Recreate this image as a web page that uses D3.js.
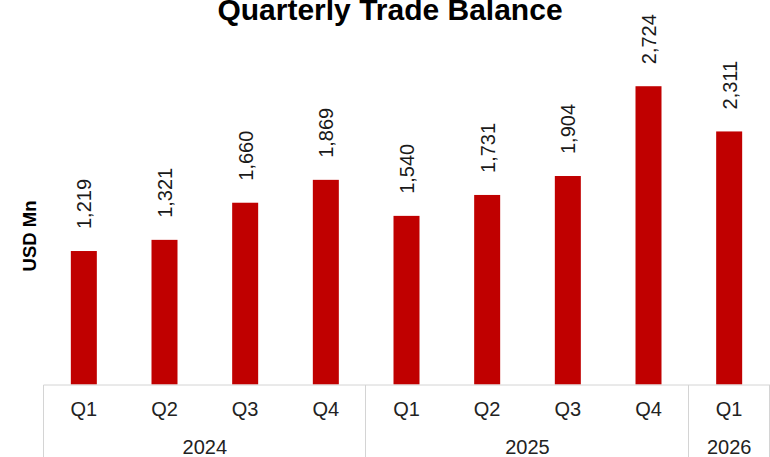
<!DOCTYPE html>
<html>
<head>
<meta charset="utf-8">
<script src="https://cdn.jsdelivr.net/npm/d3@7"></script>
<style>
  html, body { margin: 0; padding: 0; background: #fff; }
  svg { display: block; font-family: "Liberation Sans", Arial, sans-serif; }
</style>
</head>
<body>
<svg id="chart" width="770" height="457"></svg>
<script>
// Quarterly trade balance, USD millions
const quarters = ["Q1", "Q2", "Q3", "Q4", "Q1", "Q2", "Q3", "Q4", "Q1"];
const years    = ["2024", "2024", "2024", "2024", "2025", "2025", "2025", "2025", "2026"];
const values   = [1219, 1321, 1660, 1869, 1540, 1731, 1904, 2724, 2311];
const yAxisTitle = "USD Mn";
const chartTitle = "Quarterly Trade Balance";

const W = 770, H = 457;
const svg = d3.select("#chart");

const rows = values.map((v, i) => ({ key: years[i] + " " + quarters[i], q: quarters[i], year: years[i], v }));

const plotLeft = 43.5, plotRight = 769.5, baseline = 384.5;

// one cell per quarter; the bar sits in the middle of its cell
const x = d3.scaleBand().domain(rows.map(d => d.key)).range([plotLeft, plotRight]).padding(0);
const barW = 26;
const y = d3.scaleLinear().domain([0, 3000]).range([baseline, 56]);

const fmt = d3.format(",");
const red = "#c00000";
const grid = "#d4d4d4";

// title
svg.append("text")
  .attr("x", 390).attr("y", 20)
  .attr("text-anchor", "middle")
  .attr("font-size", 30).attr("font-weight", "bold").attr("fill", "#000")
  .text(chartTitle);

// y-axis title
svg.append("text")
  .attr("transform", `translate(36,236) rotate(-90)`)
  .attr("text-anchor", "middle")
  .attr("font-size", 18.5).attr("font-weight", "bold").attr("fill", "#000")
  .text(yAxisTitle);

// bars
svg.append("g").selectAll("rect").data(rows).join("rect")
  .attr("x", d => x(d.key) + (x.bandwidth() - barW) / 2)
  .attr("width", barW)
  .attr("y", d => y(d.v))
  .attr("height", d => y(0) - y(d.v))
  .attr("fill", red);

// value labels, rotated
svg.append("g").selectAll("text").data(rows).join("text")
  .attr("transform", d => `translate(${x(d.key) + x.bandwidth() / 2 + 7.5},${y(d.v) - 22}) rotate(-90)`)
  .attr("text-anchor", "start")
  .attr("font-size", 20).attr("fill", "#1a1a1a")
  .text(d => fmt(d.v));

// category table under the bars
const axis = svg.append("g");
axis.append("line")
  .attr("x1", plotLeft).attr("x2", W).attr("y1", baseline + 0.5).attr("y2", baseline + 0.5)
  .attr("stroke", grid).attr("stroke-width", 1);

axis.selectAll("text.q").data(rows).join("text")
  .attr("class", "q")
  .attr("x", d => x(d.key) + x.bandwidth() / 2)
  .attr("y", 416)
  .attr("text-anchor", "middle")
  .attr("font-size", 20).attr("fill", "#222")
  .text(d => d.q);

const groups = d3.groups(rows, d => d.year).map(([year, items]) => ({
  year,
  x0: x(items[0].key),
  x1: x(items[items.length - 1].key) + x.bandwidth()
}));

// group separators
const edges = [groups[0].x0].concat(groups.map(g => g.x1));
axis.selectAll("line.sep").data(edges).join("line")
  .attr("class", "sep")
  .attr("x1", d => Math.round(d) - 0.5).attr("x2", d => Math.round(d) - 0.5)
  .attr("y1", baseline + 0.5).attr("y2", H)
  .attr("stroke", grid).attr("stroke-width", 1);

axis.selectAll("text.yr").data(groups).join("text")
  .attr("class", "yr")
  .attr("x", d => (d.x0 + d.x1) / 2)
  .attr("y", 454)
  .attr("text-anchor", "middle")
  .attr("font-size", 20).attr("fill", "#222")
  .text(d => d.year);
</script>
</body>
</html>
